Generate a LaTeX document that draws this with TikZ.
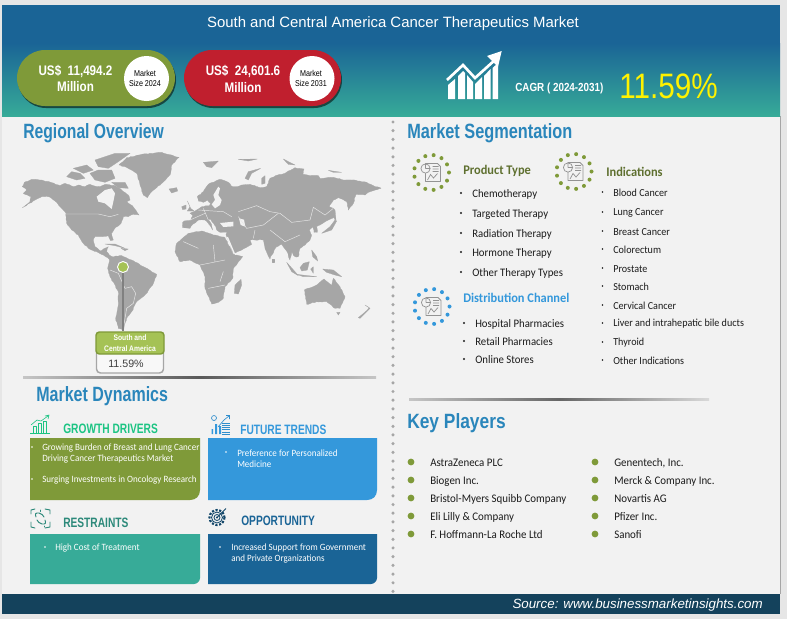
\documentclass[tikz,border=0pt]{standalone}
\usepackage{fontspec}
\usepackage{graphicx}
\usetikzlibrary{decorations.pathmorphing}
\setmainfont{Carlito}[FakeStretch=0.94]
\newfontfamily\headf[FakeStretch=0.84]{Liberation Sans}
\newfontfamily\dynf[FakeStretch=0.75]{Liberation Sans}
\newfontfamily\srcf{Liberation Sans}
\newcommand{\fs}[1]{\fontsize{#1}{#1}\selectfont}
\definecolor{bgout}{HTML}{E6E6E6}
\definecolor{panel}{HTML}{F2F2F2}
\definecolor{navy}{HTML}{1A6496}
\definecolor{teal}{HTML}{37AB98}
\definecolor{olive}{HTML}{7F9A39}
\definecolor{crimson}{HTML}{C01F2E}
\definecolor{skyb}{HTML}{3498DB}
\definecolor{foot}{HTML}{14425C}
\definecolor{headb}{HTML}{2A86BB}
\definecolor{landg}{HTML}{A6A6A6}
\definecolor{lime}{HTML}{A5C255}
\definecolor{prodc}{HTML}{5F7030}
\definecolor{dark}{HTML}{1C1C1C}
\definecolor{growc}{HTML}{1CC483}
\tikzset{
 lbl/.style={inner sep=0pt,anchor=west,align=left,yshift=-0.75pt},
 ctr/.style={inner sep=0pt,anchor=center,align=center},
 sect/.style={lbl,text=headb,font=\headf\bfseries\fs{15.5}},
 item/.style={lbl,text=dark,font=\fs{8.6}},
 indi/.style={lbl,text=dark,font=\fs{8.06}},
 keyp/.style={lbl,text=dark,font=\fs{8.7}},
 wtxt/.style={lbl,text=white,font=\fs{7.2}},
 dynh/.style={lbl,font=\dynf\bfseries\fs{10.2}},
 segh/.style={lbl,font=\bfseries\fs{9.9}},
 pillt/.style={ctr,text=white,font=\headf\bfseries\fs{10.4}},
 land/.style={fill=landg,draw=landg,line width=0.2pt,line join=round,decorate,decoration={random steps,segment length=1.6pt,amplitude=0.3pt}},
 isle/.style={fill=landg,draw=landg,line width=0.2pt,line join=round},
 sea/.style={fill=panel,draw=none},
 bord/.style={draw=panel!85!landg,line width=0.35pt},
 ring/.pic={
   \foreach \a in {0,27.7,...,340}{\fill[pic actions] (\a:17.5) circle (2);}
   \draw[draw=gray!85,line width=0.55pt,fill=panel,line join=round] (-6,-9)--(6,-9)--(9,-6)--(9,9)--(-6,9)--cycle;
   \draw[draw=gray!85,line width=0.55pt,fill=panel] (-6,-4) circle (4.6);
   \draw[draw=gray!85,line width=0.55pt] (-6,-4)--(-6,-8.6) (-6,-4)--(-1.4,-4)
     (1,-6)--(7,-6) (1,-3.5)--(7,-3.5) (1,-1)--(7,-1) (-4,7.5)--(-1,2)--(2,5.5)--(6,1);
 }
}
\begin{document}
\begin{tikzpicture}[x=0.75pt,y=-0.75pt]
\useasboundingbox (0,0) rectangle (787,619);
\fill[bgout] (0,0) rectangle (787,619);
\fill[panel] (2,5) rectangle (780,614);
\draw[gray!70,line width=0.6pt] (780.5,116)--(780.5,594);
% header
\fill[navy] (2,5) rectangle (780,43);
\shade[top color=navy,bottom color=teal] (2,43) rectangle (780,116);
\node[ctr,text=white,font=\srcf\fs{11.2}] (title) at (393,24) {South and Central America Cancer Therapeutics Market};
% pills
\fill[black!75!teal,opacity=.75,rounded corners=28*0.75pt] (18,52) rectangle (176,108);
\fill[olive,rounded corners=28*0.75pt] (17,50) rectangle (175,106);
\fill[black!75!teal,opacity=.75,rounded corners=28*0.75pt] (185,52) rectangle (342,108);
\fill[crimson,rounded corners=28*0.75pt] (184,50) rectangle (341,106);
\node[pillt] (v1a) at (75.5,71) {US\$\ \ 11,494.2};
\node[pillt] (v1b) at (75.5,87) {Million};
\node[pillt] (v2a) at (243,71.5) {US\$\ \ 24,601.6};
\node[pillt] (v2b) at (243,87.5) {Million};
\node[circle,fill=white,minimum size=45*0.75pt,inner sep=0pt] (c1) at (146.5,78.5) {};
\node[circle,fill=white,minimum size=45*0.75pt,inner sep=0pt] (c2) at (312,78.5) {};
\node[ctr,text=black,font=\headf\fs{6.4},align=center] (c1t) at (145,78.5) {Market\\[1.6pt]Size 2024};
\node[ctr,text=black,font=\headf\fs{6.4},align=center] (c2t) at (311,78.5) {Market\\[1.6pt]Size 2031};
% cagr icon
\fill[white] (448,85)--(455,79)--(455,99)--(448,99)--cycle
 (458,76)--(463,71)--(465,73)--(465,99)--(458,99)--cycle
 (467,75)--(473,82)--(473,99)--(467,99)--cycle
 (475,84)--(482,77)--(482,99)--(475,99)--cycle
 (484,76)--(490.5,69)--(490.5,99)--(484,99)--cycle
 (492.5,68)--(498,63)--(498,99)--(492.5,99)--cycle;
\draw[white,line width=2pt,line join=miter] (447,80)--(463,65)--(475,78)--(496,59);
\fill[white] (487,56)--(501.7,51)--(498,66.7)--cycle;
\node[lbl,text=white,font=\headf\bfseries\fs{8.8}] (cagr) at (515,87.5) {CAGR ( 2024-2031)};
\node[lbl,text=yellow,font=\headf\fs{26.5}] (cagrv) at (619,85) {11.59\%};
% divider
\draw[gray!70,line width=2.6pt,line cap=round,dash pattern=on 0pt off 6.52pt] (393,122)--(393,595);
% section heads
\node[sect] (h1) at (23,132.5) {\scalebox{0.905}[1]{Regional Overview}};
\node[sect] (h2) at (407,132) {\scalebox{0.94}[1]{Market Segmentation}};
\node[sect] (h3) at (36,395) {\scalebox{0.923}[1]{Market Dynamics}};
\node[sect] (h4) at (407,422) {Key Players};
% separators
\shade[left color=gray!45,right color=gray!45,middle color=gray!70!black] (23,376.6) rectangle (376,378);
\shade[left color=gray!45,right color=gray!30,middle color=gray!80!black] (409,398.4) rectangle (709,400.4);
% map west
\begin{scope}[shift={(15,145)},x=0.25pt,y=-0.25pt]
\path[land] (22,125)--(28,112)--(50,103)--(80,105)--(110,113)--(135,122)--(150,115)--(175,125)--(190,120)--(210,125)--(225,118)--(245,125)--(255,125)--(270,118)--(300,122)--(320,135)--(340,150)--(345,165)--(335,170)--(352,182)--(372,210)--(352,208)--(340,215)--(325,215)--(318,235)--(298,252)--(290,265)--(295,285)--(287,287)--(280,272)--(262,275)--(240,275)--(235,285)--(240,305)--(255,318)--(265,312)--(280,305)--(275,320)--(283,330)--(295,340)--(283,343)--(265,330)--(245,320)--(225,313)--(205,295)--(190,270)--(170,255)--(155,235)--(153,205)--(140,190)--(125,172)--(110,160)--(100,155)--(80,155)--(60,165)--(22,188)--(45,170)--(48,155)--(25,145)--(35,135)--cycle;
\path[sea] (245,155)--(270,135)--(290,130)--(300,145)--(295,170)--(290,192)--(270,175)--(250,170)--cycle;
\path[isle] (155,95)--(170,80)--(195,85)--(210,100)--(185,105)--cycle;
\path[isle] (175,70)--(215,60)--(235,75)--(205,85)--cycle;
\path[isle] (240,45)--(300,25)--(345,25)--(310,50)--(280,70)--(250,65)--cycle;
\path[isle] (225,85)--(250,75)--(290,75)--(300,100)--(270,112)--(240,105)--cycle;
\path[isle] (290,112)--(330,112)--(340,130)--(310,128)--cycle;
\path[land] (312,60)--(335,38)--(380,28)--(440,22)--(492,37)--(470,60)--(465,90)--(440,115)--(410,140)--(397,158)--(385,150)--(375,120)--(365,85)--(340,70)--cycle;
\path[isle] (462,132)--(485,128)--(488,138)--(470,144)--cycle;
\path[land] (283,345)--(290,335)--(320,332)--(350,345)--(385,365)--(425,388)--(415,415)--(395,445)--(365,470)--(350,500)--(335,520)--(325,555)--(310,550)--(302,520)--(310,480)--(310,440)--(285,395)--(278,370)--cycle;
\path[isle] (270,297)--(300,297)--(330,310)--(300,302)--cycle;
\path[isle] (318,310)--(340,312)--(330,317)--cycle;
\draw[bord] (153,207)--(250,207) (250,207)--(285,215)--(310,208);
\draw[bord] (330,430)--(350,425)--(362,445)--(355,475)--(335,490)--(325,550);
\draw[bord] (285,375)--(310,385)--(330,430);
\end{scope}
% map east
\begin{scope}[shift={(170,145)},x=0.25pt,y=-0.25pt]
\path[land] (38,232)--(42,228)--(62,226)--(68,212)--(60,205)--(80,195)--(95,185)--(118,182)--(122,175)--(112,165)--(100,172)--(85,168)--(82,155)--(100,140)--(115,118)--(150,103)--(175,112)--(187,125)--(200,125)--(215,120)--(240,118)--(262,125)--(275,128)--(290,125)--(300,100)--(330,88)--(345,85)--(375,68)--(402,72)--(398,88)--(420,92)--(445,92)--(450,100)--(490,97)--(520,105)--(545,105)--(590,112)--(610,122)--(633,130)--(615,135)--(600,140)--(585,150)--(558,148)--(550,175)--(535,195)--(530,170)--(510,160)--(505,158)--(490,165)--(478,185)--(490,190)--(495,215)--(475,225)--(450,240)--(440,245)--(442,262)--(432,262)--(430,245)--(418,255)--(425,270)--(420,285)--(405,300)--(390,310)--(385,335)--(375,335)--(365,322)--(360,345)--(350,318)--(335,298)--(320,305)--(305,330)--(300,342)--(285,310)--(280,285)--(240,285)--(245,298)--(215,315)--(190,325)--(178,290)--(168,268)--(172,262)--(150,262)--(140,255)--(138,245)--(120,222)--(115,225)--(125,240)--(128,255)--(115,235)--(105,225)--(85,225)--(68,238)--(60,250)--(38,248)--cycle;
\path[sea] (125,178)--(135,165)--(130,150)--(145,125)--(150,130)--(145,150)--(155,165)--(150,180)--(135,190)--cycle;
\path[sea] (150,234)--(190,230)--(190,244)--(160,246)--cycle;
\path[sea] (207,220)--(222,224)--(226,245)--(212,240)--cycle;
\path[land] (15,320)--(20,295)--(55,265)--(95,258)--(130,270)--(165,278)--(190,328)--(218,335)--(190,370)--(188,400)--(165,425)--(160,460)--(145,472)--(125,477)--(105,430)--(105,395)--(90,360)--(60,345)--(30,350)--cycle;
\draw[panel,line width=1pt] (172,276)--(193,326) (195,328)--(228,320);
\path[isle] (52,168)--(62,190)--(72,198)--(52,198)--(60,185)--cycle;
\path[isle] (35,185)--(48,180)--(48,192)--(38,194)--cycle;
\path[isle] (225,100)--(235,80)--(272,70)--(245,85)--(235,105)--cycle;
\path[isle] (275,100)--(285,92)--(285,115)--(275,118)--cycle;
\path[isle] (100,52)--(145,48)--(125,68)--(110,65)--cycle;
\path[isle] (205,43)--(262,42)--(235,48)--cycle;
\path[isle] (340,42)--(375,60)--(355,58)--cycle;
\path[isle] (475,76)--(515,82)--(490,82)--cycle;
\path[isle] (490,190)--(495,195)--(498,225)--(493,222)--cycle;
\path[isle] (455,265)--(480,245)--(495,225)--(500,228)--(485,255)--cycle;
\path[isle] (425,315)--(440,335)--(443,348)--(428,335)--cycle;
\path[isle] (390,368)--(400,355)--(418,350)--(412,375)--(395,378)--cycle;
\path[isle] (350,352)--(375,380)--(385,392)--(365,380)--cycle;
\path[isle] (380,388)--(440,395)--(400,395)--cycle;
\path[isle] (422,372)--(430,365)--(430,385)--cycle;
\path[isle] (458,372)--(490,375)--(515,395)--(495,390)--(470,382)--cycle;
\path[isle] (195,420)--(213,403)--(215,420)--(205,447)--(193,445)--cycle;
\path[isle] (307,342)--(312,342)--(312,350)--(307,350)--cycle;
\path[land] (403,435)--(440,420)--(462,402)--(485,422)--(490,400)--(510,425)--(525,455)--(510,490)--(495,490)--(470,470)--(440,470)--(410,478)--cycle;
\path[isle] (500,502)--(510,502)--(505,510)--cycle;
\path[isle] (565,518)--(590,497)--(598,488)--(585,480)--(600,490)--(580,510)--(570,520)--cycle;
\draw[bord] (205,200)--(260,182)--(300,200)--(330,205)--(365,232)--(420,225)--(430,187)--(465,210)--(490,190);
\draw[bord] (205,215)--(230,250)--(280,240)--(325,205) (250,280)--(255,255) (300,255)--(345,290)--(390,270);
\draw[bord] (85,195)--(160,200)--(185,215) (100,190)--(115,225) (60,225)--(105,205);
\draw[bord] (40,290)--(85,310) (130,300)--(135,350) (90,360)--(165,345) (115,430)--(165,420) (160,380)--(150,410);
\end{scope}
% marker
\node[circle,fill=lime,draw=white,line width=0.7pt,minimum size=11*0.75pt,inner sep=0pt] (dot) at (123,267) {};
\coordinate (boxtop) at (123,331);
\draw[gray,line width=0.9pt] (dot)--(boxtop);
\draw[draw=gray!70,fill=panel!50!white,line width=1.1pt,rounded corners=3pt] (96.5,345)--(96.5,373)--(163.5,373)--(163.5,345)--cycle;
\path[fill=lime,draw=olive,line width=1.1pt,rounded corners=2.5pt] (96,354)--(96,332)--(164,332)--(164,354)--cycle;
\node[ctr,text=white,font=\headf\bfseries\fs{6},align=center] (reg) at (130,343) {South and\\[2.4pt]Central America};
\node[ctr,text=dark!85,font=\srcf\fs{8}] (regv) at (126,363.5) {11.59\%};
% segmentation rings
\pic[fill=olive] at (431.5,172.5) {ring};
\pic[fill=olive] at (574,171.5) {ring};
\pic[fill=skyb] at (432,306.5) {ring};
\node[segh,text=prodc] (ptype) at (463,170) {Product Type};
\node[segh,text=prodc] (inds) at (606,171) {Indications};
\node[segh,text=skyb] (dist) at (463,297) {Distribution Channel};
\foreach \t/\y/\n in {Chemotherapy/193/a,Targeted Therapy/213/b,Radiation Therapy/233/c,Hormone Therapy/252/d,Other Therapy Types/272/e}{
 \fill[dark] (461,\y) circle (1.1);
 \node[item] (p\n) at (472,\y) {\t};}
\foreach \t/\y/\n in {Hospital Pharmacies/323/a,Retail Pharmacies/341/b,Online Stores/359/c}{
 \fill[dark] (464,\y) circle (1.1);
 \node[item] (d\n) at (475,\y) {\t};}
\foreach \t/\y/\n in {Blood Cancer/192/a,Lung Cancer/212/b,Breast Cancer/231/c,Colorectum/249/d,Prostate/268/e,Stomach/286/f,Cervical Cancer/305/g,Liver and intrahepatic bile ducts/323/h,Thyroid/342/i,Other Indications/360/j}{
 \fill[dark] (602.5,\y) circle (0.9);
 \node[indi] (i\n) at (613,\y) {\t};}
% key players
\foreach \t/\y/\n in {AstraZeneca PLC/462/a,Biogen Inc./480/b,Bristol-Myers Squibb Company/498/c,Eli Lilly \& Company/516/d,F. Hoffmann-La Roche Ltd/534/e}{
 \fill[olive] (411,\y) circle (3.4);
 \node[keyp] (k\n) at (430,\y) {\t};}
\foreach \t/\y/\n in {{Genentech, Inc.}/462/f,Merck \& Company Inc./480/g,Novartis AG/498/h,Pfizer Inc./516/i,Sanofi/534/j}{
 \fill[olive] (595,\y) circle (3.4);
 \node[keyp] (k\n) at (614,\y) {\t};}
% dynamics boxes
\fill[olive] (30,438)--(200,438)--(200,490) .. controls (200,496) and (196,500) .. (190,500)--(30,500)--cycle;
\fill[skyb] (208,438)--(377,438)--(377,490) .. controls (377,496) and (373,500) .. (367,500)--(208,500)--cycle;
\fill[teal] (30,534)--(200,534)--(200,578) .. controls (200,581) and (197,584) .. (194,584)--(30,584)--cycle;
\fill[navy] (208,534)--(377,534)--(377,578) .. controls (377,581) and (374,584) .. (371,584)--(208,584)--cycle;
\node[dynh,text=growc] (g) at (63,428) {GROWTH DRIVERS};
\node[dynh,text=skyb] (f) at (240,429) {FUTURE TRENDS};
\node[dynh,text=teal!80!black] (r) at (63,522) {RESTRAINTS};
\node[dynh,text=navy] (o) at (241,520) {OPPORTUNITY};
\fill[white] (32,447) circle (0.9) (32,479) circle (0.9) (226,452) circle (0.9) (45,547) circle (0.9) (220,547) circle (0.9);
\node[wtxt] (g1) at (42,447) {Growing Burden of Breast and Lung Cancer};
\node[wtxt] (g2) at (42,458) {Driving Cancer Therapeutics Market};
\node[wtxt] (g3) at (42,479) {Surging Investments in Oncology Research};
\node[wtxt] (f1) at (237,452) {Preference for Personalized};
\node[wtxt] (f2) at (237,463) {Medicine};
\node[wtxt] (r1) at (55,547) {High Cost of Treatment};
\node[wtxt] (o1) at (231,547) {Increased Support from Government};
\node[wtxt] (o2) at (231,558) {and Private Organizations};
% growth icon
\begin{scope}[draw=growc,line width=0.45pt,line join=round]
\draw (30,433.5)--(50,433.5);
\draw (33,433) rectangle (36,426) (38,433) rectangle (41,423) (43,433) rectangle (46,421);
\draw (31,425)--(37,420)--(41,421)--(48,416) (45,416)--(49,415)--(48,419);
\end{scope}
% restraints icon
\begin{scope}[draw=teal!80!black,line width=0.7pt,line cap=round]
\draw (31,514)--(31,510)--(35,509) (45,509)--(50,510)--(50,514) (31,522)--(31,527)--(35,528) (45,528)--(50,527)--(50,522);
\draw[rounded corners=1.5pt] (36,517)--(35,513)--(41,513)--(44,517) (45,520)--(46,524)--(40,524)--(37,520);
\draw (40,510)--(40,511.5) (44,526)--(44,527);
\end{scope}
% future icon
\begin{scope}[draw=skyb!80!navy,line width=0.5pt]
\fill[skyb] (211.5,429) rectangle (213,434) (215,424) rectangle (217,434) (219,426) rectangle (221,434);
\draw (214,418) circle (2.5);
\draw (218,427)--(224,420)--(229,416) (226,415.5)--(229.5,415.5)--(229.5,419);
\draw[dash pattern=on 0.8pt off 0.8pt,line width=2.5pt] (224,423)--(224,434) (228,423)--(228,434);
\end{scope}
% opportunity icon
\begin{scope}[draw=navy!70!black,line width=0.6pt]
\draw[dash pattern=on 1.6pt off 1.2pt,line width=1.6pt] (217,517.5) circle (7.5);
\draw (217,517.5) circle (5.5) (217,517.5) circle (3);
\fill[navy!70!black] (217,517.5) circle (1.2);
\draw (217,517.5)--(226,508.5);
\end{scope}
% footer
\fill[foot] (2,594) rectangle (780,614);
\node[anchor=east,inner sep=0pt,text=white,font=\srcf\itshape\fs{10}] (src) at (763,605) {Source: www.businessmarketinsights.com};
\end{tikzpicture}
\end{document}
